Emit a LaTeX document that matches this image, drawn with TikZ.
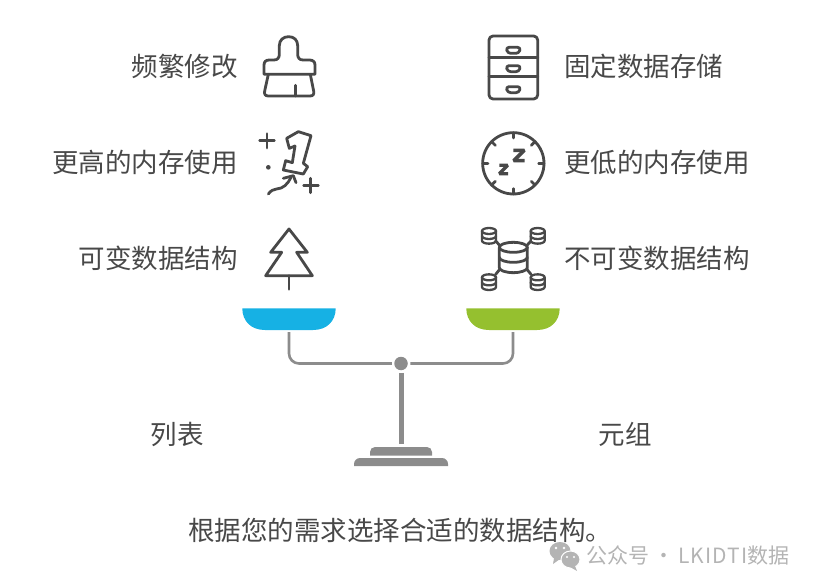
\documentclass[tikz,border=0pt]{standalone}
\usepackage{fontspec}
\setmainfont{Noto Sans CJK SC}
\usetikzlibrary{calc}
\definecolor{ink}{HTML}{484848}
\definecolor{beamgray}{HTML}{8C8C8C}
\definecolor{markgray}{HTML}{B4B4B4}
\definecolor{panblue}{HTML}{16B1E4}
\definecolor{pangreen}{HTML}{95C02F}
\tikzset{
  >={latex},
  label_r/.style={anchor=east,inner sep=0pt,text=ink,font=\fontsize{26.5}{30}\selectfont},
  label_l/.style={anchor=west,inner sep=0pt,text=ink,font=\fontsize{26.5}{30}\selectfont},
  label_c/.style={inner sep=0pt,text=ink,font=\fontsize{26.5}{30}\selectfont},
  icon/.style={draw=ink,line width=2.8pt,line join=round,line cap=round},
  beam/.style={draw=beamgray,line width=2.6pt,rounded corners=10pt},
  small_db/.pic={
    \draw[icon,line width=2.3pt] (0,0) ellipse (21 and 9);
    \draw[icon,line width=2.3pt] (-21,0) -- (-21,29) arc (180:0:21 and 9) -- (21,0);
    \draw[icon,line width=2.3pt] (-21,15) arc (180:0:21 and 9);
  }
}
\begin{document}
\begin{tikzpicture}[x=1pt,y=-1pt]
    \useasboundingbox (0,0) rectangle (817,588);
    \node[label_r] (t_1) at (238,66.5) {频繁修改};
    \node[label_r] (t_2) at (238,162.5) {更高的内存使用};
    \node[label_r] (t_3) at (238,258.5) {可变数据结构};
    \node[label_l] (u_1) at (564,66.5) {固定数据存储};
    \node[label_l] (u_2) at (564,162.5) {更低的内存使用};
    \node[label_l] (u_3) at (564,258.5) {不可变数据结构};
    \node[label_c] (list) at (177,434.5) {列表};
    \node[label_c] (tuple) at (625,434.5) {元组};
    \node[label_c] (note) at (400,530.5) {根据您的需求选择合适的数据结构。};
    % brush
    \begin{scope}[shift={(250,25)},x=1/3*1pt,y=-1/3*1pt]
        \draw[icon] (42,148) -- (42,120) .. controls (42,110) and (48,105) .. (58,105)
            -- (72,105) .. controls (83,105) and (88,98) .. (88,88) -- (88,62)
            .. controls (88,45) and (100,35) .. (116,35) .. controls (132,35) and (143,45) .. (143,62)
            -- (143,88) .. controls (143,98) and (148,105) .. (159,105) -- (178,105)
            .. controls (189,105) and (195,110) .. (195,120) -- (195,148) -- cycle;
        \draw[icon] (55,148) -- (44,198) .. controls (42,208) and (46,213) .. (55,213)
            -- (180,213) .. controls (189,213) and (193,208) .. (191,198) -- (181,148);
        \draw[icon] (137,181) -- (137,213);
    \end{scope}
    % sparkling one
    \begin{scope}[shift={(250,120)},x=1/3*1pt,y=-1/3*1pt]
        \draw[icon] (110,55) -- (145,35) -- (183,47) -- (160,130) -- (173,140) -- (160,162)
            -- (100,150) -- (107,122) -- (127,128) -- (135,78) -- (118,85) -- cycle;
        \draw[icon] (29,62) -- (73,62) (51,41) -- (51,84);
        \draw[icon] (161,197) -- (205,197) (182,175) -- (182,218);
        \fill[ink] (55,142) circle (7);
        \draw[icon] (55,222) .. controls (70,200) and (90,212) .. (105,197) .. controls (113,190) and (118,182) .. (123,172);
        \draw[icon] (100,175) -- (130,167) -- (138,188);
    \end{scope}
    % tree
    \begin{scope}[shift={(230,220)},x=1/3*1pt,y=-1/3*1pt]
        \draw[icon] (177,27) -- (232,97) -- (200,97) -- (247,167) -- (107,167) -- (155,97) -- (122,97) -- cycle;
        \draw[icon] (177,167) -- (177,208);
    \end{scope}
    % cabinet
    \begin{scope}[shift={(470,25)},x=1/3*1pt,y=-1/3*1pt]
        \draw[icon,rounded corners=4pt] (57,33) rectangle (203,222);
        \draw[icon] (57,97) -- (203,97) (57,155) -- (203,155);
        \foreach \y in {67,122,185}{
            \draw[icon,rounded corners=3pt] (108,\y) -- (152,\y) -- (147,\y+18) -- (113,\y+18) -- cycle;
        }
    \end{scope}
    % clock
    \begin{scope}[shift={(470,120)},x=1/3*1pt,y=-1/3*1pt]
        \draw[icon] (130,130) circle (92);
        \foreach \a in {0,45,...,315}{
            \draw[icon] ($(130,130)+(\a:92)$) -- ($(130,130)+(\a:76)$);
        }
        \draw[icon,line width=3.6pt,line cap=butt,line join=bevel] (130,91) -- (163,91) -- (131,122) -- (164,122);
        \draw[icon,line width=3.2pt,line cap=butt,line join=bevel] (88,136) -- (113,136) -- (88,161) -- (114,161);
    \end{scope}
    % database
    \begin{scope}[shift={(470,215)},x=1/3*1pt,y=-1/3*1pt]
        \draw[icon] (130,97) ellipse (42 and 15);
        \draw[icon] (88,97) -- (88,158) arc (180:0:42 and 15) -- (172,97);
        \draw[icon] (88,127) arc (180:0:42 and 15);
        \draw[icon] (77,78) -- (90,92) (183,78) -- (170,92) (77,178) -- (90,162) (183,178) -- (170,162);
        \pic at (57,48) {small_db};
        \pic at (203,48) {small_db};
        \pic at (57,187) {small_db};
        \pic at (203,187) {small_db};
    \end{scope}
    % scale
    \fill[panblue] (242.3,308.3) -- (335.7,308.3) .. controls (335.7,321) and (327,330) .. (313,330)
        -- (265,330) .. controls (251,330) and (242.3,321) .. (242.3,308.3) -- cycle;
    \fill[pangreen] (466.3,308.3) -- (559.7,308.3) .. controls (559.7,321) and (551,330) .. (537,330)
        -- (489,330) .. controls (475,330) and (466.3,321) .. (466.3,308.3) -- cycle;
    \coordinate (pan_l) at (289,332);
    \coordinate (pan_r) at (513,332);
    \coordinate (foot) at (401,444);
    \node[circle,fill=beamgray,minimum size=13.5pt,inner sep=0pt,outer sep=2.5pt] (hub) at (401,363.5) {};
    \draw[beam] (hub.west) -| (pan_l);
    \draw[beam] (hub.east) -| (pan_r);
    \draw[draw=beamgray,line width=5pt] (hub.south) -- (foot);
    \fill[beamgray] (370,455.5) -- (370,452) arc (180:270:5) -- (427,447) arc (270:360:5) -- (432,455.5) -- cycle;
    \fill[beamgray] (354,466) -- (354,464) arc (180:270:6) -- (442,458) arc (270:360:6) -- (448,466) -- cycle;
    % chat mark
    \fill[markgray] (560,551) ellipse (10.5 and 9);
    \fill[markgray] (554,558) -- (553,564) -- (560,559) -- cycle;
    \filldraw[markgray,draw=white,line width=1pt] (570.5,559.5) ellipse (9.5 and 8.5);
    \fill[markgray] (575,566) -- (577,571) -- (570,567) -- cycle;
    \fill[white] (556,548) circle (1.4) (564,548) circle (1.4) (567,557) circle (1.2) (574,557) circle (1.2);
    \node[anchor=west,inner sep=0pt,text=markgray,font=\fontsize{21}{25}\selectfont] (mark) at (586,555) {公众号 · \hspace{-1.5pt}{\addfontfeature{LetterSpace=5.5}LKIDTI}数据};
\end{tikzpicture}
\end{document}
